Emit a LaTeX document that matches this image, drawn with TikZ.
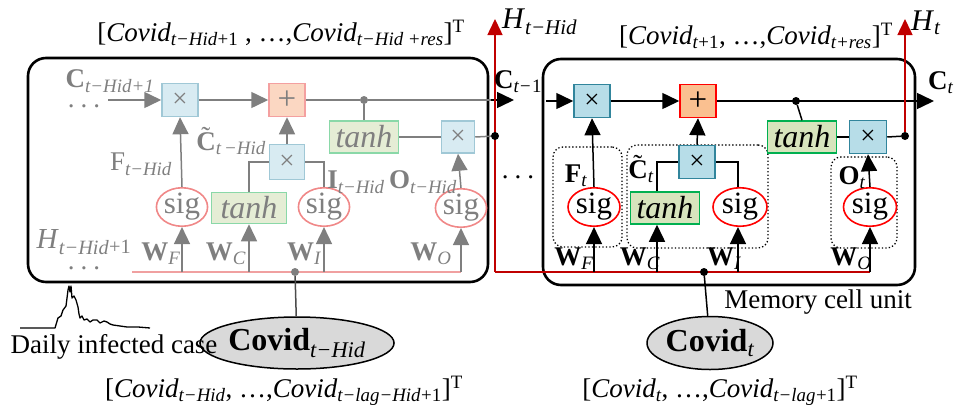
\documentclass[tikz,border=0pt]{standalone}
\usepackage{fontspec}
\setmainfont{Liberation Serif}
\usetikzlibrary{arrows.meta,shapes.geometric}

% palette
\definecolor{gtxt}{HTML}{7F7F7F}
\definecolor{mulfillR}{HTML}{B7DDE8}
\definecolor{mulbdR}{HTML}{31859C}
\definecolor{mulfillL}{HTML}{D8EBF2}
\definecolor{mulbdL}{HTML}{A0C8D6}
\definecolor{plfillR}{HTML}{FAC090}
\definecolor{plfillL}{HTML}{FBD7C2}
\definecolor{plbdL}{HTML}{F4A0A0}
\definecolor{thfillR}{HTML}{D7E4BD}
\definecolor{thbdR}{HTML}{00B050}
\definecolor{thfillL}{HTML}{E5EDD5}
\definecolor{thbdL}{HTML}{8AD8A8}
\definecolor{sigL}{HTML}{F08888}
\definecolor{hred}{HTML}{C00000}
\definecolor{inredL}{HTML}{F0A0A0}
\definecolor{covfill}{HTML}{D9D9D9}

\newcommand\sbt[1]{\textsubscript{\itshape #1}}
% bold C with a tilde placed over it
\newcommand\Ctil{\textbf{C}\llap{\raisebox{0.17em}{\char"02DC}\hspace{0.2em}}}

\begin{document}
\begin{tikzpicture}[x=1pt,y=-1pt,
  >={Triangle[length=17pt,width=16pt]},
  txt/.style={font=\fontsize{27}{30}\selectfont, inner sep=0pt},
  gtx/.style={txt, text=gtxt},
  cellbox/.style={draw=black, line width=2.6pt, rounded corners=18pt},
  mulR/.style={draw=mulbdR, fill=mulfillR, line width=1.5pt, minimum width=36pt, minimum height=33pt, inner sep=0pt, font=\fontsize{27}{27}\selectfont},
  mulL/.style={mulR, draw=mulbdL, fill=mulfillL, text=gtxt},
  plR/.style={mulR, draw=red, fill=plfillR, font=\fontsize{33}{33}\selectfont},
  plL/.style={plR, draw=plbdL, fill=plfillL, text=gtxt},
  thR/.style={draw=thbdR, fill=thfillR, line width=1.5pt, minimum width=69pt, minimum height=32pt, inner sep=0pt, font=\fontsize{32}{32}\selectfont\itshape},
  thL/.style={thR, draw=thbdL, fill=thfillL, text=gtxt},
  sigR/.style={ellipse, draw=red, line width=1.6pt, minimum width=52pt, minimum height=31pt, inner sep=0pt, font=\fontsize{31}{31}\selectfont},
  sigL/.style={sigR, draw=sigL, minimum width=48pt, minimum height=32pt, text=gtxt},
  lnR/.style={draw=black, line width=1.5pt},
  lnL/.style={draw=gtxt, line width=1.5pt},
  arR/.style={lnR, ->},
  arL/.style={lnL, ->, >={Triangle[length=17pt,width=16pt,fill=gtxt]}},
  dotR/.style={circle, fill=black, minimum size=8pt, inner sep=0pt},
  dotL/.style={dotR, fill=gtxt},
  redln/.style={draw=hred, line width=1.5pt},
  redar/.style={redln, -{Triangle[length=16pt,width=15pt]}},
  grpbox/.style={draw=black, line width=1.3pt, dash pattern=on 1.3pt off 2.2pt, rounded corners=10pt, inner sep=0pt},
  covid/.style={ellipse, draw=black, line width=1.5pt, fill=covfill, inner sep=0pt, font=\fontsize{32}{32}\selectfont}
]
\useasboundingbox (0,0) rectangle (958,410);

% ---------- cell frames ----------
\draw[cellbox] (28,58) rectangle (488,282);
\draw[cellbox] (543,59) rectangle (915,285);

% ---------- earlier memory cell (t-Hid) ----------
\node[mulL] (Lmf) at (180,100) {×};
\node[plL]  (Lpl) at (287,100) {+};
\node[dotL] (Ljc) at (364,100) {};
\node[thL]  (Ltc) at (364,137) {tanh};
\node[mulL, minimum width=33pt, minimum height=32pt] (Lmo) at (458,137) {×};
\node[mulL, minimum width=35pt, minimum height=35pt] (Lmi) at (287,162) {×};
\node[sigL] (LsF) at (182,207) {sig};
\node[thL, minimum width=75pt, minimum height=31pt] (LtC) at (249,208) {tanh};
\node[sigL, minimum width=50pt] (LsI) at (324,207) {sig};
\node[sigL] (LsO) at (461,208) {sig};

\coordinate (Lcin) at (108,100);
\coordinate (Lcout) at (491,100);
\coordinate (Ctip) at (514,100);
\coordinate (Lr0) at (132,272);
\coordinate (Lr1) at (461,272);

\draw[arL] (Lcin) -- (Lmf.west);
\draw[arL] (Lmf.east) -- (Lpl.west);
\draw[lnL] (Lpl.east) -- (Ljc) -- (Lcout);
\draw[arR] (Lcout) -- (Ctip);
\draw[lnL] (Ljc) -- (Ltc.north);
\draw[lnL] (Ltc.east) -- (Lmo.west);
\draw[arL] (LsF.north) -- (Lmf.south);
\draw[lnL] (LtC.north) |- (Lmi.west);
\draw[lnL] (LsI.north) |- (Lmi.east);
\draw[arL] (Lmi.north) -- (Lpl.south);
\draw[arL] (LsO.north) -- (Lmo.south);

\draw[draw=inredL, line width=1.5pt] (Lr0) -- (Lr1);
\draw[arL] (LsF.south |- Lr0) -- (LsF.south);
\draw[arL] (LtC.south |- Lr0) -- (LtC.south);
\draw[arL] (LsI.south |- Lr0) -- (LsI.south);
\draw[arL] (LsO.south |- Lr0) -- (LsO.south);
\node[dotL] (Lin) at (295,272) {};

% labels of the earlier cell
\node[gtx] (lCprev) at (110,81) {\textbf{C}\sbt{t−Hid+1}};
\node[gtx] (lCdots) at (84,106) {.\hspace{6pt}.\hspace{6pt}.};
\node[gtx] (lF) at (141,164) {F\sbt{t−Hid}};
\node[gtx] (lCt) at (231,141) {\Ctil\sbt{t\,−Hid}};
\node[gtx] (lI) at (356,182) {\textbf{I}\sbt{t−Hid}};
\node[gtx] (lO) at (423,182) {\textbf{O}\sbt{t−Hid}};
\node[gtx] (lWF) at (161,254) {\textbf{W}\sbt{F}};
\node[gtx] (lWC) at (226,254) {\textbf{W}\sbt{C}};
\node[gtx] (lWI) at (304,254) {\textbf{W}\sbt{I}};
\node[gtx] (lWO) at (431,254) {\textbf{W}\sbt{O}};
\node[gtx, font=\fontsize{29}{30}\selectfont] (lH) at (84,242) {\textit{H}\sbt{t−Hid}\textsubscript{+1}};
\node[gtx] (lHdots) at (84,268) {.\hspace{6pt}.\hspace{6pt}.};

% ---------- hidden-state outputs (red) ----------
\coordinate (Hlb) at (495,272);
\coordinate (Hlt) at (495,19);
\coordinate (Rr1) at (870,272);
\draw[redar] (Hlb) -- (Hlt);
\draw[redln] (Hlb) -- (Rr1);
\node[dotR] (Hld) at (495,136) {};
\draw[lnL] (Lmo.east) -- (Hld);

% ---------- current memory cell (t) ----------
\node[grpbox, minimum width=69pt, minimum height=100pt] (gF) at (587.5,197) {};
\node[grpbox, minimum width=141pt, minimum height=103pt] (gCI) at (697.5,196.5) {};
\node[grpbox, minimum width=66pt, minimum height=91pt] (gO) at (864,202.5) {};

\node[mulR] (Rmf) at (592,101) {×};
\node[plR]  (Rpl) at (698,101) {+};
\node[dotR] (Rjc) at (796,101) {};
\node[thR]  (Rtc) at (802,137) {tanh};
\node[mulR, minimum width=37pt] (Rmo) at (868,137) {×};
\node[mulR] (Rmi) at (697,162) {×};
\node[sigR] (RsF) at (594,207) {sig};
\node[thR]  (RtC) at (665,208) {tanh};
\node[sigR, minimum width=54pt, minimum height=32pt] (RsI) at (740,207) {sig};
\node[sigR, minimum width=53pt] (RsO) at (870,207) {sig};
\node[dotR] (Hrd) at (905,136) {};
\coordinate (Hrt) at (905,19);
\coordinate (Rcin) at (546,101);
\coordinate (Rcout) at (934,101);
\coordinate (RxC) at (657,272);
\coordinate (RxI) at (738,272);

\draw[arR] (Rcin) -- (Rmf.west);
\draw[arR] (Rmf.east) -- (Rpl.west);
\draw[arR] (Rpl.east) -- (Rcout);
\draw[lnR] (Rjc) -- (Rtc.north);
\draw[lnR] (Rtc.east) -- (Rmo.west);
\draw[lnR] (Rmo.east) -- (Hrd);
\draw[redar] (Hrd) -- (Hrt);
\draw[arR] (RsF.north) -- (Rmf.south);
\draw[lnR] (RxC |- RtC.north) |- (Rmi.west);
\draw[lnR] (RxI |- RsI.north) |- (Rmi.east);
\draw[arR] (Rmi.north) -- (Rpl.south);
\draw[arR] (RsO.north) -- (Rmo.south);

\draw[arR] (RsF.south |- Rr1) -- (RsF.south);
\draw[arR] (RxC) -- (RxC |- RtC.south);
\draw[arR] (RxI) -- (RxI |- RsI.south);
\draw[arR] (Rr1) -- (RsO.south);
\node[dotR] (Rin) at (704,272) {};

% labels of the current cell
\node[txt] (rF) at (576,176) {\textbf{F}\sbt{t}};
\node[txt] (rC) at (641,169) {\Ctil\sbt{t}};
\node[txt] (rO) at (852,178) {\textbf{O}\sbt{t}};
\node[txt] (rWF) at (574,259) {\textbf{W}\sbt{F}};
\node[txt] (rWC) at (640,259) {\textbf{W}\sbt{C}};
\node[txt] (rWI) at (724,259) {\textbf{W}\sbt{I}};
\node[txt] (rWO) at (851,259) {\textbf{W}\sbt{O}};
\node[txt] (between) at (518,177) {.\hspace{6pt}.\hspace{6pt}.};
\node[txt] (lC1) at (518,82) {\textbf{C}\sbt{t−}\textsubscript{1}};
\node[txt, anchor=west] (lCt1) at (928,83) {\textbf{C}\sbt{t}};
\node[txt, anchor=west, font=\fontsize{30}{30}\selectfont] (lHl) at (502,22) {\textit{H}\sbt{t−Hid}};
\node[txt, anchor=west, font=\fontsize{30}{30}\selectfont] (lHr) at (911,23) {\textit{H}\sbt{t}};

% ---------- inputs ----------
\node[covid, minimum width=157pt, minimum height=52pt] (Cl) at (297,343) {\textbf{Covid}\sbt{t−Hid}};
\node[covid, minimum width=126pt, minimum height=53pt] (Cr) at (710,343) {\textbf{Covid}\sbt{t}};
\draw[draw=black!70, line width=1.5pt] (Lin) -- (Cl);
\draw[lnR] (Rin) -- (Cr);

\node[txt] (top1) at (281,33) {[\textit{Covid}\sbt{t−Hid}\textsubscript{+1} , …,\textit{Covid}\sbt{t−Hid +res}]\textsuperscript{T}};
\node[txt] (top2) at (756,36) {[\textit{Covid}\sbt{t}\textsubscript{+1}, …,\textit{Covid}\sbt{t+res}]\textsuperscript{T}};
\node[txt] (bot1) at (284,391) {[\textit{Covid}\sbt{t−Hid}, …,\textit{Covid}\sbt{t−lag−Hid}\textsubscript{+1}]\textsuperscript{T}};
\node[txt] (bot2) at (720,391) {[\textit{Covid}\sbt{t}, …,\textit{Covid}\sbt{t−lag}\textsubscript{+1}]\textsuperscript{T}};
\node[txt] (mcu) at (818,302) {Memory cell unit};
\node[txt] (daily) at (114,347) {Daily infected case};

% daily case curve
\draw[line width=1.3pt, line join=round] plot coordinates {
  (20,328) (55,328) (58,318) (61,316) (63,310) (66,306) (68,290) (69,286) (70,292)
  (71,286) (72,298) (74,296) (76,300) (78,307) (79,314) (80,318) (82,316) (84,320)
  (87,319) (90,322) (93,320) (97,320) (100,323) (104,321) (107,322) (110,324)
  (113,325) (120,326) (127,327) (138,327) (150,328)};
\end{tikzpicture}
\end{document}
